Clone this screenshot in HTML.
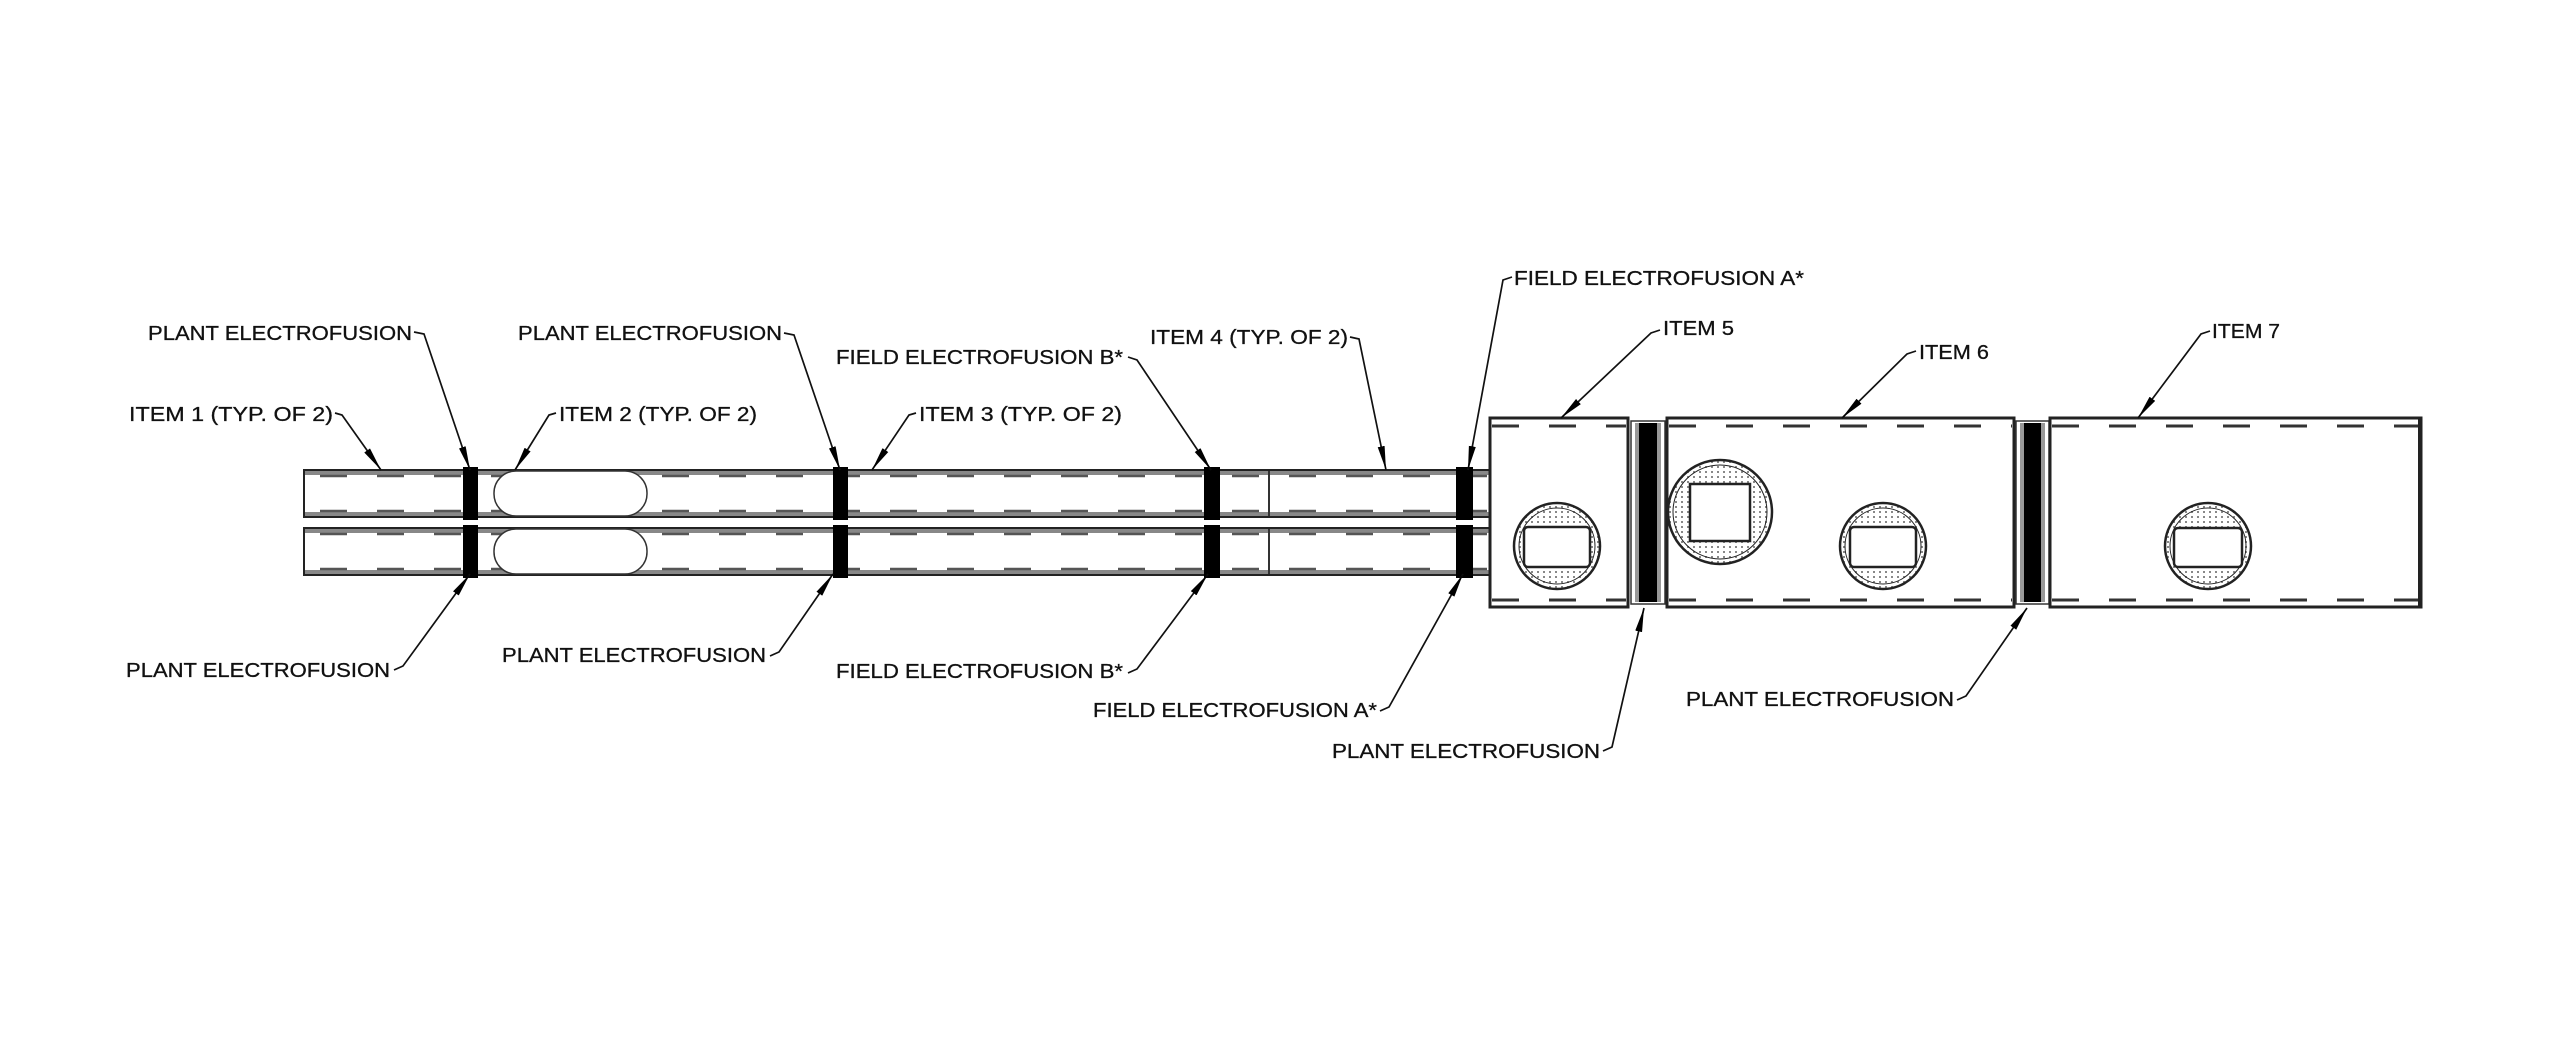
<!DOCTYPE html>
<html><head><meta charset="utf-8"><style>
html,body{margin:0;padding:0;background:#fff;}
svg{display:block;}
text{font-family:"Liberation Sans",Arial,sans-serif;font-size:20px;fill:#111;stroke:#111;stroke-width:0.3px;}
</style></head><body>
<svg width="2560" height="1044" viewBox="0 0 2560 1044" xmlns="http://www.w3.org/2000/svg">
<defs>
<marker id="ah" markerUnits="userSpaceOnUse" markerWidth="26" markerHeight="12" refX="24" refY="5" orient="auto">
<path d="M0,1.5 L24,5 L0,8.5 Z" fill="#000"/>
</marker>
<pattern id="dots" width="6" height="5" patternUnits="userSpaceOnUse">
<rect width="6" height="5" fill="#fff"/>
<rect x="1" y="1" width="2" height="2" fill="#888"/>
</pattern>
</defs>

<!-- small pipes -->
<g id="pipe">
<rect x="304" y="470" width="1186" height="47" fill="#fff" stroke="#222" stroke-width="2"/>
<line x1="305" y1="473" x2="1489" y2="473" stroke="#888" stroke-width="4"/>
<line x1="305" y1="514" x2="1489" y2="514" stroke="#888" stroke-width="4"/>
<line x1="320" y1="476" x2="1489" y2="476" stroke="#555" stroke-width="2.5" stroke-dasharray="27 30"/>
<line x1="320" y1="511" x2="1489" y2="511" stroke="#555" stroke-width="2.5" stroke-dasharray="27 30"/>
<rect x="494" y="471" width="153" height="45" rx="22" ry="22" fill="#fff" stroke="#333" stroke-width="1.5"/>
<line x1="1269" y1="471" x2="1269" y2="516" stroke="#333" stroke-width="2"/>
<rect x="463" y="467" width="15" height="53" fill="#000"/>
<rect x="833" y="467" width="15" height="53" fill="#000"/>
<rect x="1204" y="467" width="16" height="53" fill="#000"/>
<rect x="1456" y="467" width="17" height="53" fill="#000"/>
</g>
<use href="#pipe" y="58"/>

<!-- item 5 -->
<rect x="1490" y="418" width="138" height="189" fill="#fff" stroke="#222" stroke-width="3"/>
<line x1="1492" y1="426" x2="1626" y2="426" stroke="#333" stroke-width="3" stroke-dasharray="27 30"/>
<line x1="1492" y1="600" x2="1626" y2="600" stroke="#333" stroke-width="3" stroke-dasharray="27 30"/>
<!-- band 5/6 -->
<rect x="1631" y="421" width="34" height="183" fill="#fff" stroke="#333" stroke-width="1.5"/>
<rect x="1635" y="423" width="26" height="179" fill="#999"/>
<rect x="1639" y="423" width="18" height="179" fill="#000"/>
<!-- item 6 -->
<rect x="1667" y="418" width="347" height="189" fill="#fff" stroke="#222" stroke-width="3"/>
<line x1="1669" y1="426" x2="2012" y2="426" stroke="#333" stroke-width="3" stroke-dasharray="27 30"/>
<line x1="1669" y1="600" x2="2012" y2="600" stroke="#333" stroke-width="3" stroke-dasharray="27 30"/>
<!-- band 6/7 -->
<rect x="2016" y="421" width="33" height="183" fill="#fff" stroke="#333" stroke-width="1.5"/>
<rect x="2020" y="423" width="25" height="179" fill="#999"/>
<rect x="2024" y="423" width="17" height="179" fill="#000"/>
<!-- item 7 -->
<rect x="2050" y="418" width="371" height="189" fill="#fff" stroke="#222" stroke-width="3"/>
<line x1="2420" y1="418" x2="2420" y2="607" stroke="#222" stroke-width="4"/>
<line x1="2052" y1="426" x2="2418" y2="426" stroke="#333" stroke-width="3" stroke-dasharray="27 30"/>
<line x1="2052" y1="600" x2="2418" y2="600" stroke="#333" stroke-width="3" stroke-dasharray="27 30"/>

<!-- circles -->
<g stroke="#222" stroke-width="2.5">
<circle cx="1557" cy="546" r="43" fill="url(#dots)"/>
<circle cx="1557" cy="546" r="38" fill="none" stroke-width="1"/>
<rect x="1524" y="527" width="66" height="40" rx="4" fill="#fff"/>
<circle cx="1720" cy="512" r="52" fill="url(#dots)"/>
<circle cx="1720" cy="512" r="47" fill="none" stroke-width="1"/>
<rect x="1690" y="484" width="60" height="57" fill="#fff"/>
<circle cx="1883" cy="546" r="43" fill="url(#dots)"/>
<circle cx="1883" cy="546" r="38" fill="none" stroke-width="1"/>
<rect x="1850" y="527" width="66" height="40" rx="4" fill="#fff"/>
<circle cx="2208" cy="546" r="43" fill="url(#dots)"/>
<circle cx="2208" cy="546" r="38" fill="none" stroke-width="1"/>
<rect x="2174" y="528" width="68" height="39" rx="4" fill="#fff"/>
</g>

<!-- leaders -->
<g fill="none" stroke="#111" stroke-width="1.7" marker-end="url(#ah)">
<polyline points="414,332 424,334 470,470"/>
<polyline points="335,413 342,415 381,470"/>
<polyline points="784,333 794,335 840,470"/>
<polyline points="556,413 549,415 515,470"/>
<polyline points="916,413 909,415 872,470"/>
<polyline points="1128,357 1137,360 1211,470"/>
<polyline points="1350,337 1359,339 1386,470"/>
<polyline points="1512,277 1503,280 1468,470"/>
<polyline points="1660,330 1651,333 1561,418"/>
<polyline points="1916,351 1907,354 1842,418"/>
<polyline points="2210,331 2201,334 2138,418"/>
<polyline points="394,670 403,666 470,574"/>
<polyline points="770,656 779,652 833,574"/>
<polyline points="1128,673 1137,669 1208,574"/>
<polyline points="1380,711 1389,707 1463,574"/>
<polyline points="1603,751 1612,747 1644,608"/>
<polyline points="1957,700 1966,696 2027,608"/>
</g>

<!-- labels -->
<text x="148" y="340" textLength="264" lengthAdjust="spacingAndGlyphs">PLANT ELECTROFUSION</text>
<text x="129" y="421" textLength="204" lengthAdjust="spacingAndGlyphs">ITEM 1  (TYP. OF 2)</text>
<text x="518" y="340" textLength="264" lengthAdjust="spacingAndGlyphs">PLANT ELECTROFUSION</text>
<text x="559" y="421" textLength="198" lengthAdjust="spacingAndGlyphs">ITEM 2 (TYP. OF 2)</text>
<text x="919" y="421" textLength="203" lengthAdjust="spacingAndGlyphs">ITEM 3 (TYP. OF 2)</text>
<text x="836" y="364" textLength="287" lengthAdjust="spacingAndGlyphs">FIELD ELECTROFUSION B*</text>
<text x="1150" y="344" textLength="198" lengthAdjust="spacingAndGlyphs">ITEM 4 (TYP. OF 2)</text>
<text x="1514" y="285" textLength="290" lengthAdjust="spacingAndGlyphs">FIELD ELECTROFUSION A*</text>
<text x="1663" y="335" textLength="71" lengthAdjust="spacingAndGlyphs">ITEM 5</text>
<text x="1919" y="359" textLength="70" lengthAdjust="spacingAndGlyphs">ITEM 6</text>
<text x="2212" y="338" textLength="68" lengthAdjust="spacingAndGlyphs">ITEM 7</text>
<text x="126" y="677" textLength="264" lengthAdjust="spacingAndGlyphs">PLANT ELECTROFUSION</text>
<text x="502" y="662" textLength="264" lengthAdjust="spacingAndGlyphs">PLANT ELECTROFUSION</text>
<text x="836" y="678" textLength="287" lengthAdjust="spacingAndGlyphs">FIELD ELECTROFUSION B*</text>
<text x="1093" y="717" textLength="284" lengthAdjust="spacingAndGlyphs">FIELD ELECTROFUSION A*</text>
<text x="1332" y="758" textLength="268" lengthAdjust="spacingAndGlyphs">PLANT ELECTROFUSION</text>
<text x="1686" y="706" textLength="268" lengthAdjust="spacingAndGlyphs">PLANT ELECTROFUSION</text>
</svg>
</body></html>
